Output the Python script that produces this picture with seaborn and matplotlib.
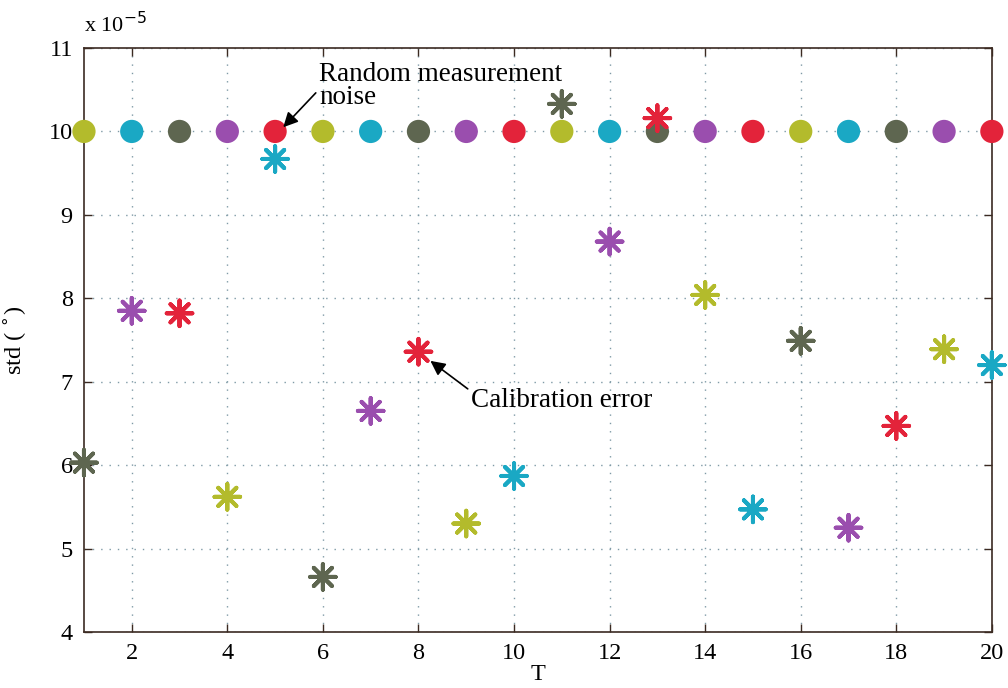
import numpy as np
import pandas as pd
import seaborn as sns
from matplotlib import pyplot as plt

# values in units of 1e-5 degrees
T = list(range(1, 21))
noise_std = [10.0] * 20
calib_std = [6.03, 7.85, 7.82, 5.62, 9.67, 4.66, 6.65, 7.36, 5.30, 5.87,
             10.33, 8.68, 10.16, 8.04, 5.47, 7.49, 5.25, 6.47, 7.39, 7.20]
colours = ["#b3bb2c", "#1aa8c4", "#5e6650", "#9a4eae", "#e3233a"]

noise = pd.DataFrame({"T": T, "std": noise_std,
                      "c": [(t - 1) % 5 for t in T]})
calib = pd.DataFrame({"T": T, "std": calib_std,
                      "c": [(t + 1) % 5 for t in T]})
palette = {i: colours[i] for i in range(5)}

sns.set_style("ticks")
plt.rcParams["font.family"] = ["Liberation Serif", "DejaVu Serif"]
plt.rcParams["text.color"] = "black"
plt.rcParams["axes.labelcolor"] = "black"
plt.rcParams["xtick.color"] = "black"
plt.rcParams["ytick.color"] = "black"

fig = plt.figure(figsize=(10.08, 6.88), dpi=100)
ax = fig.add_axes([0.0833, 0.0814, 0.9007, 0.8488])

sns.scatterplot(data=noise, x="T", y="std", hue="c", palette=palette, marker="o",
                s=280, linewidth=0, legend=False, ax=ax, zorder=3, clip_on=False)
sns.scatterplot(data=calib, x="T", y="std", hue="c", palette=palette, marker=(8, 2, 0),
                s=340, linewidth=2.9, legend=False, ax=ax, zorder=4, clip_on=False)

ax.set_xlim(1, 20)
ax.set_ylim(4, 11)
ax.set_xticks(range(2, 21, 2))
ax.set_yticks(range(4, 12))
ax.grid(True, linestyle=(0, (1, 5)), color="#7f9aa6", linewidth=1.0)
ax.set_axisbelow(True)
for s in ax.spines.values():
    s.set_color("#3b2a22")
    s.set_linewidth(1.2)
    s.set_visible(True)
ax.tick_params(direction="in", length=6, width=1.0, color="#3b2a22",
               labelcolor="black", top=True, right=True, labelsize=17.5, pad=8)

ax.set_xlabel("T", fontsize=17.5, labelpad=0)
ax.set_ylabel(r"std ( $^{\circ}$)", fontsize=17.5, labelpad=14)
ax.text(0.0, 1.018, r"x 10$^{-5}$", transform=ax.transAxes, fontsize=16,
        ha="left", va="bottom")

ax.annotate("Random measurement\nnoise", xy=(5.17, 10.05), xytext=(5.92, 10.55),
            fontsize=19.5, ha="left", va="center", linespacing=0.9,
            arrowprops=dict(arrowstyle="-|>", color="black", lw=1.2,
                            mutation_scale=22, shrinkA=0, shrinkB=0,
                            relpos=(0.0, 0.42)),
            zorder=6)
ax.annotate("Calibration error", xy=(8.25, 7.25), xytext=(9.1, 6.78),
            fontsize=19.5, ha="left", va="center",
            arrowprops=dict(arrowstyle="-|>", color="black", lw=1.2,
                            mutation_scale=22, shrinkA=0, shrinkB=0,
                            relpos=(0.0, 0.85)),
            zorder=6)

fig.savefig("out.png", dpi=100)
